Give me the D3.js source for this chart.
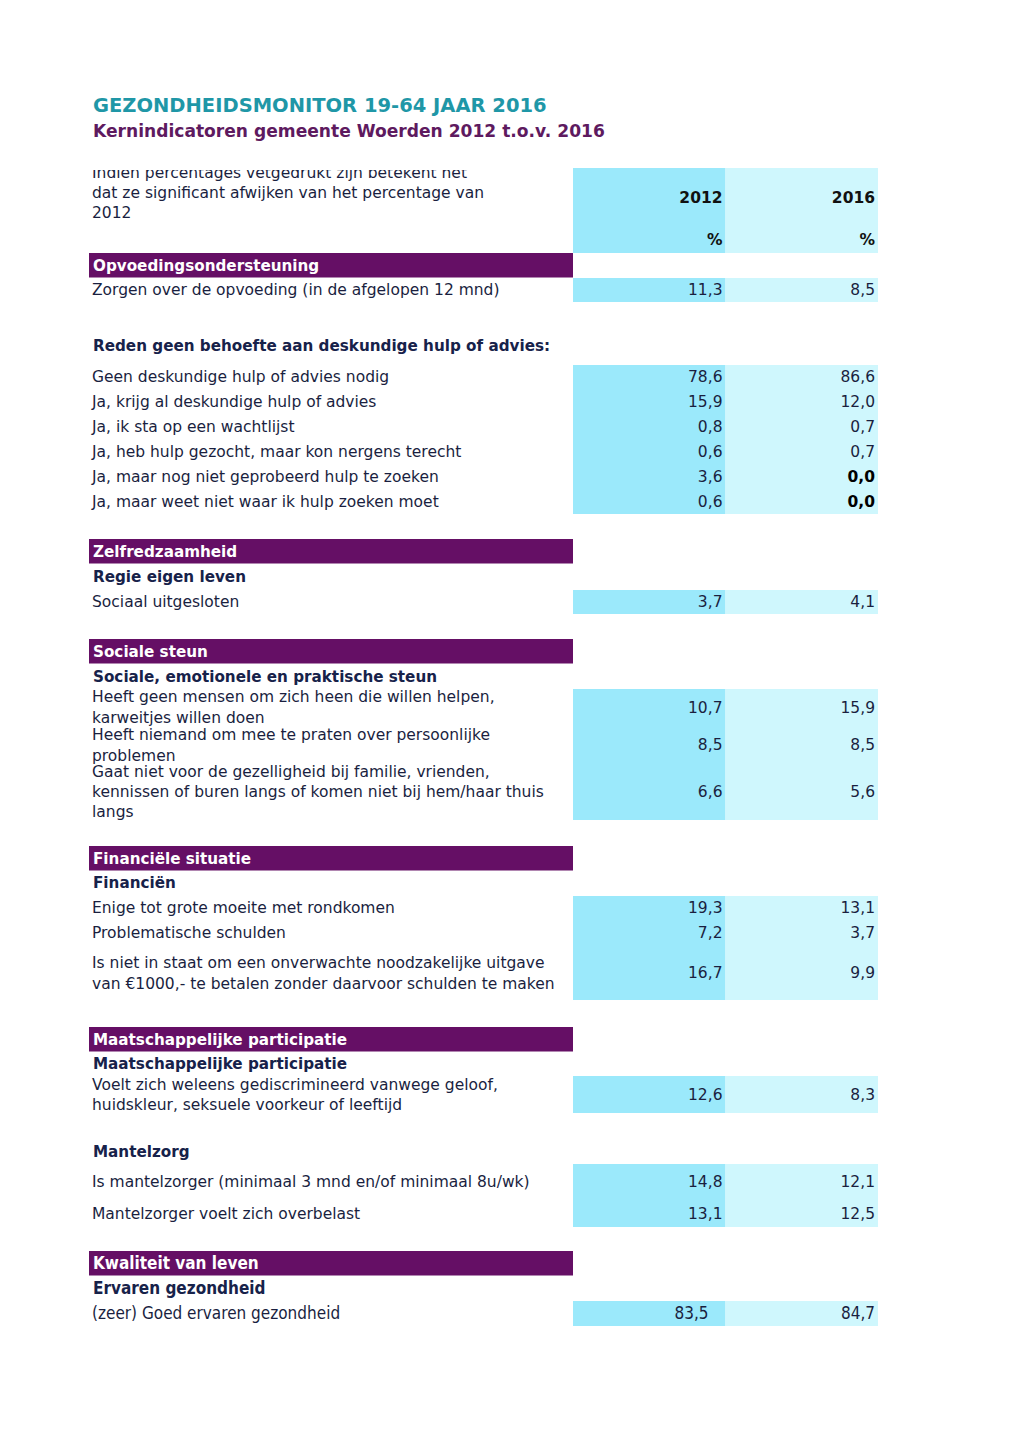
<!DOCTYPE html>
<html><head><meta charset="utf-8">
<script src="https://cdnjs.cloudflare.com/ajax/libs/d3/7.8.5/d3.min.js"></script>
<style>body{margin:0;background:#fff}svg{display:block}</style>
</head><body>
<svg id="chart" width="1024" height="1448"></svg>
<script>
// ---------------- DATA ----------------
const title = "GEZONDHEIDSMONITOR 19-64 JAAR 2016";
const subtitle = "Kernindicatoren gemeente Woerden 2012 t.o.v. 2016";
const introText = ["Indien percentages vetgedrukt zijn betekent het", "dat ze significant afwijken van het percentage van", "2012"];
const years = ["2012", "2016"];
const unitLabel = "%";
const sections = ["Opvoedingsondersteuning", "Zelfredzaamheid", "Sociale steun", "Financiële situatie", "Maatschappelijke participatie", "Kwaliteit van leven"];
const subheaders = ["Reden geen behoefte aan deskundige hulp of advies:", "Regie eigen leven", "Sociale, emotionele en praktische steun", "Financiën", "Maatschappelijke participatie", "Mantelzorg", "Ervaren gezondheid"];
const indicators = [
  "Zorgen over de opvoeding (in de afgelopen 12 mnd)",
  "Geen deskundige hulp of advies nodig",
  "Ja, krijg al deskundige hulp of advies",
  "Ja, ik sta op een wachtlijst",
  "Ja, heb hulp gezocht, maar kon nergens terecht",
  "Ja, maar nog niet geprobeerd hulp te zoeken",
  "Ja, maar weet niet waar ik hulp zoeken moet",
  "Sociaal uitgesloten",
  "Heeft geen mensen om zich heen die willen helpen,|karweitjes willen doen",
  "Heeft niemand om mee te praten over persoonlijke|problemen",
  "Gaat niet voor de gezelligheid bij familie, vrienden,|kennissen of buren langs of komen niet bij hem/haar thuis|langs",
  "Enige tot grote moeite met rondkomen",
  "Problematische schulden",
  "Is niet in staat om een onverwachte noodzakelijke uitgave|van €1000,- te betalen zonder daarvoor schulden te maken",
  "Voelt zich weleens gediscrimineerd vanwege geloof,|huidskleur, seksuele voorkeur of leeftijd",
  "Is mantelzorger (minimaal 3 mnd en/of minimaal 8u/wk)",
  "Mantelzorger voelt zich overbelast",
  "(zeer) Goed ervaren gezondheid"
];
const values2012 = [11.3, 78.6, 15.9, 0.8, 0.6, 3.6, 0.6, 3.7, 10.7, 8.5, 6.6, 19.3, 7.2, 16.7, 12.6, 14.8, 13.1, 83.5];
const values2016 = [8.5, 86.6, 12.0, 0.7, 0.7, 0.0, 0.0, 4.1, 15.9, 8.5, 5.6, 13.1, 3.7, 9.9, 8.3, 12.1, 12.5, 84.7];
const significant2016 = [false, false, false, false, false, true, true, false, false, false, false, false, false, false, false, false, false, false];

// ---------------- LAYOUT (positions only) ----------------
const sectionY = [253, 539, 639, 846, 1027, 1251];           // top of purple bars
const subheaderY = [346, 577, 677, 883, 1064, 1152, 1288];     // text centres
const rowLayout = [
  {t: 278, b: 302, lines: [290], v: 290},
  {t: 365, b: 390, lines: [377], v: 377},
  {t: 390, b: 415, lines: [402], v: 402},
  {t: 415, b: 440, lines: [427], v: 427},
  {t: 440, b: 465, lines: [452], v: 452},
  {t: 465, b: 490, lines: [477], v: 477},
  {t: 490, b: 514, lines: [502], v: 502},
  {t: 590, b: 614, lines: [602], v: 602},
  {t: 689, b: 727, lines: [697, 718], v: 708},
  {t: 727, b: 765, lines: [735, 756], v: 745},
  {t: 765, b: 820, lines: [772, 792, 812], v: 792},
  {t: 896, b: 921, lines: [908], v: 908},
  {t: 921, b: 946, lines: [933], v: 933},
  {t: 946, b: 1000, lines: [963, 984], v: 973},
  {t: 1076, b: 1113, lines: [1085, 1105], v: 1095},
  {t: 1164, b: 1198, lines: [1182], v: 1182},
  {t: 1198, b: 1227, lines: [1214], v: 1214},
  {t: 1301, b: 1326, lines: [1313], v: 1313}
];

const FONT = "'DejaVu Sans', Verdana, sans-serif";
const FONT_C = "'DejaVu Sans Condensed', 'DejaVu Sans', sans-serif";
const C = {teal: "#1f97a7", plum: "#5e1a5f", bar: "#650f65", text: "#1a1f3f", navy: "#17224a",
           c2012: "#9be9fb", c2016: "#cff7fd"};
const FS = 15.5, FS_B = 15.2, FS_C = 17;

const svg = d3.select("#chart");
const x = d3.scaleBand().domain(years).range([573, 878]).paddingInner(0);
const colColor = d3.scaleOrdinal().domain(years).range([C.c2012, C.c2016]);
const labelX = 92, barX0 = 89, barX1 = 573;
const fmt = v => d3.format(".1f")(v).replace(".", ",");
const lastSec = sections.length - 1, lastSub = subheaders.length - 1, lastRow = indicators.length - 1;

// Title
svg.append("text").attr("x", 93).attr("y", 112).attr("font-family", FONT).attr("font-weight", "bold")
  .attr("font-size", 19.5).attr("fill", C.teal).text(title);
svg.append("text").attr("x", 93).attr("y", 137).attr("font-family", FONT).attr("font-weight", "bold")
  .attr("font-size", 17.1).attr("fill", C.plum).text(subtitle);

// Header cells
svg.selectAll("rect.hdr").data(years).join("rect").attr("class", "hdr")
  .attr("x", d => x(d)).attr("width", x.bandwidth()).attr("y", 168).attr("height", 85)
  .attr("fill", d => colColor(d));
svg.selectAll("text.yr").data(years).join("text").attr("class", "yr")
  .attr("x", d => x(d) + x.bandwidth() - 3).attr("y", 198).attr("dy", "0.35em")
  .attr("text-anchor", "end").attr("font-family", FONT).attr("font-weight", "bold")
  .attr("font-size", 15.5).attr("fill", "#111").text(d => d);
svg.selectAll("text.pct").data(years).join("text").attr("class", "pct")
  .attr("x", d => x(d) + x.bandwidth() - 3).attr("y", 240).attr("dy", "0.35em")
  .attr("text-anchor", "end").attr("font-family", FONT).attr("font-weight", "bold")
  .attr("font-size", 15.5).attr("fill", "#111").text(unitLabel);

// Intro text, clipped at top
svg.append("clipPath").attr("id", "introClip").append("rect").attr("x", 80).attr("y", 170).attr("width", 500).attr("height", 60);
svg.append("g").attr("clip-path", "url(#introClip)").selectAll("text").data(introText).join("text")
  .attr("x", labelX).attr("y", (d, i) => 178 + i * 20)
  .attr("font-family", FONT).attr("font-size", FS).attr("fill", C.text).text(d => d);

// Section bars
const sec = svg.selectAll("g.sec").data(sections).join("g").attr("class", "sec");
sec.append("rect").attr("x", barX0).attr("width", barX1 - barX0).attr("y", (d, i) => sectionY[i]).attr("height", 24.5).attr("fill", C.bar);
sec.append("text").attr("x", labelX + 1).attr("y", (d, i) => sectionY[i] + 12.5).attr("dy", "0.35em")
  .attr("font-family", (d, i) => i === lastSec ? FONT_C : FONT).attr("font-weight", "bold")
  .attr("font-size", (d, i) => i === lastSec ? FS_C : FS_B).attr("fill", "#fff").text(d => d);

// Subheaders
svg.selectAll("text.sub").data(subheaders).join("text").attr("class", "sub")
  .attr("x", labelX + 1).attr("y", (d, i) => subheaderY[i]).attr("dy", "0.35em")
  .attr("font-family", (d, i) => i === lastSub ? FONT_C : FONT).attr("font-weight", "bold")
  .attr("font-size", (d, i) => i === lastSub ? FS_C : FS_B).attr("fill", C.navy).text(d => d);

// Rows
const rows = indicators.map((label, i) => ({label, i, v: [values2012[i], values2016[i]], sig: [false, significant2016[i]], L: rowLayout[i]}));
const rg = svg.selectAll("g.row").data(rows).join("g").attr("class", "row");
rg.selectAll("rect.cell").data(d => years.map((y, k) => ({y, k, r: d}))).join("rect").attr("class", "cell")
  .attr("x", d => x(d.y)).attr("width", x.bandwidth())
  .attr("y", d => d.r.L.t).attr("height", d => d.r.L.b - d.r.L.t).attr("fill", d => colColor(d.y));
rg.selectAll("text.val").data(d => years.map((y, k) => ({y, k, r: d}))).join("text").attr("class", "val")
  .attr("x", d => x(d.y) + x.bandwidth() - (d.r.i === lastRow && d.k === 0 ? 17 : 3))
  .attr("y", d => d.r.L.v).attr("dy", "0.35em")
  .attr("text-anchor", "end")
  .attr("font-family", d => d.r.i === lastRow ? FONT_C : FONT)
  .attr("font-weight", d => d.r.sig[d.k] ? "bold" : "normal")
  .attr("font-size", d => d.r.i === lastRow ? FS_C : FS).attr("fill", d => d.r.sig[d.k] ? "#000" : C.text)
  .text(d => fmt(d.r.v[d.k]));
rg.selectAll("text.lbl").data(d => d.label.split("|").map((s, j) => ({s, y: d.L.lines[j], i: d.i}))).join("text").attr("class", "lbl")
  .attr("x", labelX).attr("y", d => d.y).attr("dy", "0.35em")
  .attr("font-family", d => d.i === lastRow ? FONT_C : FONT)
  .attr("font-size", d => d.i === lastRow ? FS_C : FS).attr("fill", C.text).text(d => d.s);
</script>
</body></html>
